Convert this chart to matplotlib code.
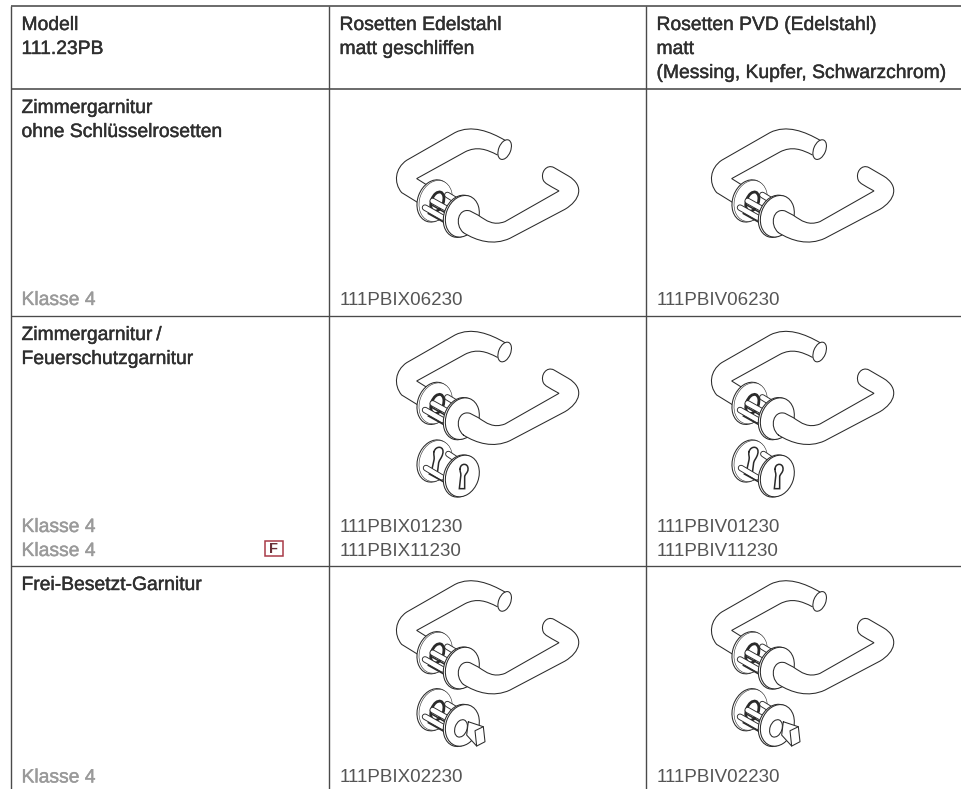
import matplotlib
matplotlib.use('Agg')
import matplotlib.pyplot as plt
import matplotlib.patheffects as pe
from matplotlib.patches import Ellipse, PathPatch, Rectangle
from matplotlib.path import Path

# table content
col_x = [10.5, 328.5, 645.5]
row_y = [6, 88.5, 315.5, 565.5]
headers = [
    ['Modell', '111.23PB'],
    ['Rosetten Edelstahl', 'matt geschliffen'],
    ['Rosetten PVD (Edelstahl)', 'matt', '(Messing, Kupfer, Schwarzchrom)'],
]
row_titles = [
    ['Zimmergarnitur', 'ohne Schlüsselrosetten'],
    ['Zimmergarnitur\u2009/', 'Feuerschutzgarnitur'],
    ['Frei-Besetzt-Garnitur'],
]
row_classes = [
    [(305, 'Klasse 4')],
    [(532, 'Klasse 4'), (556, 'Klasse 4')],
    [(782.5, 'Klasse 4')],
]
codes_edelstahl = [
    [(305, '111PBIX06230')],
    [(532, '111PBIX01230'), (556, '111PBIX11230')],
    [(782.5, '111PBIX02230')],
]
codes_pvd = [
    [(305, '111PBIV06230')],
    [(532, '111PBIV01230'), (556, '111PBIV11230')],
    [(782.5, '111PBIV02230')],
]

# drawing offsets per cell: (column shift, row shift, lower part)
stamps = [
    (0, -202.4, None), (315, -202.4, None),
    (0, 0, 'key'), (315, 0, 'key'),
    (0, 249.4, 'turn'), (315, 249.4, 'turn'),
]

# lever outlines, in 3x units from the crop of the middle row
back_outer = 'M 525 68 C 480 42 425 20 375 45 L 230 128 C 195 152 190 195 215 225 L 275 262'
back_inner = 'M 502 112 C 470 95 440 85 405 103 L 260 183 L 300 208'
front_fill = ('M 400 345 C 440 370 490 385 540 362 L 705 275 C 750 248 765 205 715 175 L 672 150 '
              'C 650 138 630 165 640 188 C 645 198 655 202 687 220 L 525 312 C 490 325 470 310 445 293 '
              'L 420 280 C 385 270 372 320 400 345')

# posts between the plates, as (x0, y0, x1, y1)
posts_full = [(285, 270, 338, 300), (308, 250, 362, 280), (352, 232, 388, 254)]
posts_key = [(288, 444, 335, 472), (355, 402, 388, 424)]
dark_full = [(295, 288, 338, 312), (305, 262, 345, 285)]
dark_key = [(298, 462, 338, 484)]

INK = '#2a2a2a'
LW = 0.75


def svg_path(spec):
    parts = spec.split()
    verts, codes = [], []
    i = 0
    while i < len(parts):
        cmd = parts[i]
        if cmd in 'ML':
            verts.append((float(parts[i + 1]), float(parts[i + 2])))
            codes.append(Path.MOVETO if cmd == 'M' else Path.LINETO)
            i += 3
        else:
            # cubic runs
            for k in range(3):
                verts.append((float(parts[i + 1 + 2 * k]), float(parts[i + 2 + 2 * k])))
                codes.append(Path.CURVE4)
            i += 7
    return verts, codes


def add_path(ax, spec, ox, oy, fill='none', lw=LW, z=3):
    verts, codes = svg_path(spec)
    verts = [(ox + x / 3, oy + y / 3) for x, y in verts]
    ax.add_patch(PathPatch(Path(verts, codes), fc=fill, ec=INK, lw=lw, zorder=z, capstyle='round'))


def add_ell(ax, cx, cy, w, h, ox, oy, angle=20, fill='white', lw=LW, z=3):
    ax.add_patch(Ellipse((ox + cx / 3, oy + cy / 3), w / 3, h / 3, angle=angle,
                         fc=fill, ec=INK, lw=lw, zorder=z))


def add_posts(ax, ox, oy, posts, dark, dy, z):
    for x0, y0, x1, y1 in posts:
        xs = [ox + x0 / 3, ox + x1 / 3]
        ys = [oy + (y0 + dy) / 3, oy + (y1 + dy) / 3]
        ax.plot(xs, ys, color=INK, lw=4.6, solid_capstyle='round', zorder=z)
        ax.plot(xs, ys, color='white', lw=3.3, solid_capstyle='round', zorder=z)
    for x0, y0, x1, y1 in dark:
        ax.plot([ox + x0 / 3, ox + x1 / 3], [oy + (y0 + dy) / 3, oy + (y1 + dy) / 3],
                color=INK, lw=1.1, zorder=z)


def plates(ax, ox, oy, yb, yf, z):
    add_ell(ax, 312, yb, 98, 130, ox, oy, z=z)
    add_ell(ax, 317, yb, 96, 126, ox, oy, z=z, lw=0.4)


def front_plate(ax, ox, oy, yf, z):
    add_ell(ax, 391, yf, 98, 130, ox, oy, z=z)
    add_ell(ax, 397, yf, 98, 128, ox, oy, z=z)


def handle(ax, ox, oy, lower):
    add_ell(ax, 524, 96, 36, 62, ox, oy, angle=22, z=3)
    add_path(ax, back_outer, ox, oy, z=3)
    add_path(ax, back_inner, ox, oy, z=3)
    plates(ax, ox, oy, 250, 296, 4)
    add_ell(ax, 322, 252, 36, 60, ox, oy, lw=2.0, z=4)
    add_posts(ax, ox, oy, posts_full, dark_full, 0, 4)
    front_plate(ax, ox, oy, 296, 5)
    add_path(ax, front_fill, ox, oy, fill='white', z=6)
    if lower == 'key':
        plates(ax, ox, oy, 423, 468, 4)
        add_path(ax, 'M 312 395 C 318 375 345 378 338 402 C 336 412 328 420 326 428 L 322 460 L 304 456 L 312 420 C 314 410 310 405 312 395',
                 ox, oy, fill='white', lw=1.1, z=4)
        add_posts(ax, ox, oy, posts_key, dark_key, 0, 4)
        front_plate(ax, ox, oy, 468, 5)
        add_path(ax, 'M 390 448 C 390 428 416 428 414 448 C 414 458 405 462 404 470 L 404 506 L 388 506 L 392 470 C 394 460 390 456 390 448',
                 ox, oy, fill='white', lw=1.1, z=7)
    elif lower == 'turn':
        plates(ax, ox, oy, 421, 468, 4)
        add_ell(ax, 322, 424, 36, 60, ox, oy, lw=2.0, z=4)
        add_posts(ax, ox, oy, posts_full, dark_full, 172, 4)
        front_plate(ax, ox, oy, 468, 5)
        add_ell(ax, 393, 477, 36, 54, ox, oy, z=7)
        add_path(ax, 'M 415 457 L 460 472 L 465 517 L 440 530 L 410 497 L 415 457', ox, oy, fill='white', z=8)
        add_path(ax, 'M 460 472 L 435 484 L 440 530', ox, oy, z=8)


fig = plt.figure(figsize=(9.61, 7.89), dpi=100)
ax = fig.add_axes([0, 0, 1, 1])
ax.set_xlim(0, 961)
ax.set_ylim(789, 0)
ax.axis('off')

# grid
for x in col_x:
    ax.plot([x, x], [row_y[0], 789], color='#4a4a4a', lw=1.0, solid_capstyle='butt')
for i, y in enumerate(row_y):
    ax.plot([col_x[0], 961], [y, y], color='#4a4a4a', lw=1.15 if i < 2 else 0.95, solid_capstyle='butt')

FONT = 'Liberation Sans'
SIZE = 13.9
medium = [pe.withStroke(linewidth=0.3, foreground='#2f2f2f')]

for x, lines in zip(col_x, headers):
    for k, line in enumerate(lines):
        ax.text(x + 11, 30 + k * 24, line, family=FONT, fontsize=SIZE, color='#2f2f2f',
                va='baseline', path_effects=medium)

for y, lines in zip(row_y[1:], row_titles):
    for k, line in enumerate(lines):
        ax.text(col_x[0] + 11, y + 24.5 + k * 24, line, family=FONT, fontsize=SIZE, color='#2f2f2f',
                va='baseline', path_effects=medium)

for entries in row_classes:
    for y, label in entries:
        ax.text(col_x[0] + 11, y, label, family=FONT, fontsize=SIZE, color='#9a9a9a',
                va='baseline', path_effects=[pe.withStroke(linewidth=0.3, foreground='#9a9a9a')])

for col, table in [(1, codes_edelstahl), (2, codes_pvd)]:
    for entries in table:
        for y, label in entries:
            ax.text(col_x[col] + 11, y, label, family=FONT, fontsize=13.5, color='#555555', va='baseline')

# fire protection mark
ax.add_patch(Rectangle((265, 540.5), 17.5, 15.5, fc='white', ec='#a83a48', lw=1.1, zorder=3))
ax.text(273.8, 553, 'F', family=FONT, fontsize=10.5, fontweight='bold', color='#6a3038',
        ha='center', va='baseline', zorder=4)

for dx, dy, lower in stamps:
    handle(ax, 330 + dx, 320 + dy, lower)

fig.savefig('out.png', dpi=100)
